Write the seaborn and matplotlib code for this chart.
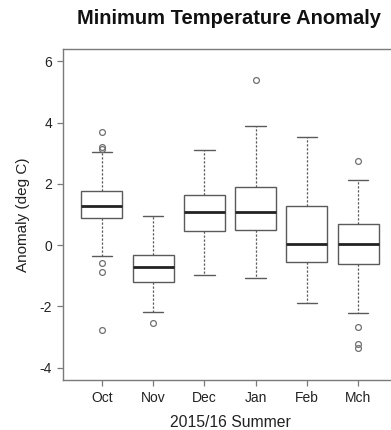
import numpy as np
import pandas as pd
import matplotlib
matplotlib.use("Agg")
import matplotlib.pyplot as plt
import seaborn as sns

# ---- data (five-number summaries + outliers) ----
months = ["Oct", "Nov", "Dec", "Jan", "Feb", "Mch"]
lower_whisker = [-0.35, -2.18, -0.96, -1.06, -1.89, -2.21]
q1 = [0.87, -1.19, 0.47, 0.50, -0.56, -0.63]
median = [1.28, -0.71, 1.07, 1.08, 0.03, 0.04]
q3 = [1.76, -0.32, 1.62, 1.90, 1.27, 0.70]
upper_whisker = [3.05, 0.95, 3.10, 3.90, 3.53, 2.12]
low_outliers = [[-0.59, -0.86, -2.77], [-2.54], [], [], [], [-2.67, -3.21, -3.34]]
high_outliers = [[3.15, 3.19, 3.70], [], [], [5.38], [], [2.75]]
y_ticks = [-4, -2, 0, 2, 4, 6]


def expand(wlo, a, med, b, whi, lows, highs, m=10):
    """Build a sample whose quartiles/whiskers/outliers equal the given summary."""
    n = 4 * m + 1
    L, H = len(lows), len(highs)
    s = [0.0] * n
    s[:L] = sorted(lows)
    s[L] = wlo
    for i in range(L + 1, m + 1):
        s[i] = a
    for i in range(m + 1, 2 * m + 1):
        s[i] = med
    for i in range(2 * m + 1, n - 1 - H):
        s[i] = b
    s[n - 1 - H] = whi
    s[n - H:] = sorted(highs)
    return s


rows = []
for i, mo in enumerate(months):
    vals = expand(lower_whisker[i], q1[i], median[i], q3[i], upper_whisker[i],
                  low_outliers[i], high_outliers[i])
    rows += [(mo, v) for v in vals]
df = pd.DataFrame(rows, columns=["month", "value"])

sns.set_style("white")
plt.rcParams["font.family"] = ["Liberation Sans", "DejaVu Sans"]

fig = plt.figure(figsize=(3.91, 4.30), dpi=100)
ax = fig.add_axes([63 / 391, 50 / 430, 334 / 391, 331 / 430])

line_c = "#5a5a5a"
sns.boxplot(
    data=df, x="month", y="value", order=months, ax=ax,
    width=0.8, color="white", linecolor=line_c, linewidth=1.0,
    saturation=1, whis=1.5,
    fliersize=4.2,
    flierprops=dict(marker="o", markerfacecolor="none",
                    markeredgecolor="#707070", markeredgewidth=0.9),
    medianprops=dict(color="#222222", linewidth=2.0, solid_capstyle="butt"),
    whiskerprops=dict(linestyle=(0, (1.8, 1.4)), linewidth=0.9),
    capprops=dict(linestyle="-", linewidth=1.0),
)

ax.set_xlim(-0.76, 5.76)
ax.set_ylim(-4.4, 6.4)
ax.set_yticks(y_ticks)
ax.set_yticklabels([str(t) for t in y_ticks])

for sp in ax.spines.values():
    sp.set_visible(True)
    sp.set_color("#7a7a7a")
    sp.set_linewidth(1.0)

ax.tick_params(axis="both", direction="out", length=4, width=0.9,
               color="#7a7a7a", labelsize=10, labelcolor="#222222",
               left=True, bottom=True, pad=4)

ax.set_xlabel("2015/16 Summer", fontsize=11.3, color="#222222", labelpad=7)
ax.set_ylabel("Anomaly (deg C)", fontsize=11.0, color="#222222", labelpad=7)

fig.text(229 / 391, 1 - 18 / 430, "Minimum Temperature Anomaly",
         ha="center", va="center", fontsize=14.5, fontweight="bold",
         color="#111111")

fig.savefig("out.png", dpi=100)
